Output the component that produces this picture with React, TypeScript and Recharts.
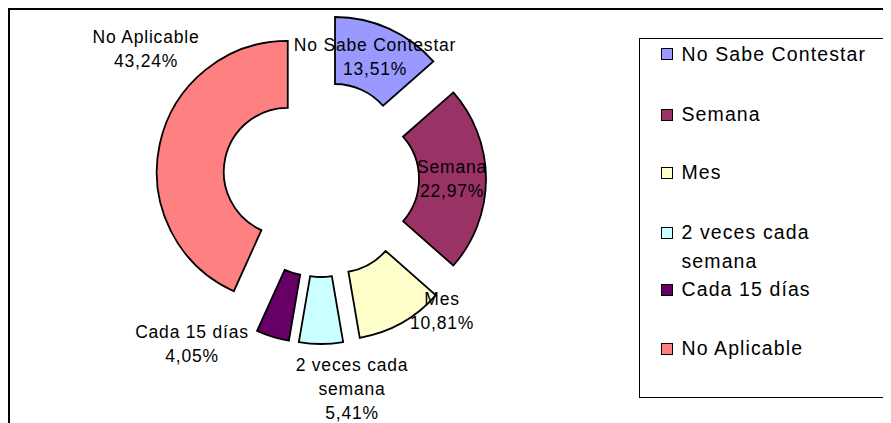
import React from 'react';
import { PieChart, Pie, Cell, Legend } from 'recharts';

// ---- data ----
const categories = ['No Sabe Contestar', 'Semana', 'Mes', '2 veces cada semana', 'Cada 15 días', 'No Aplicable'];
const values = [13.51, 22.97, 10.81, 5.41, 4.05, 43.24];
const labelLines = [['No Sabe Contestar'], ['Semana'], ['Mes'], ['2 veces cada', 'semana'], ['Cada 15 días'], ['No Aplicable']];
const legendLines = [['No Sabe Contestar'], ['Semana'], ['Mes'], ['2 veces cada', 'semana'], ['Cada 15 días'], ['No Aplicable']];
const colors = ['#9999FF', '#993366', '#FFFFCC', '#CCFFFF', '#660066', '#FF8080'];

const data = categories.map((name, i) => ({ name, value: values[i] }));

// ---- layout ----
const W = 881;
const H = 413;
const CX = 311;
const CY = 169;
const R_IN = 64;
const R_OUT = 131;
const EXPLODE = 34;
const LABEL_OFFSETS: number[][] = [[54, -122], [131, 0], [121, 131.5], [31, 210], [-129, 164.5], [-175, -130]];
const LEGEND_ROWS = [16.5, 77, 135, 195, 252, 311];
const FONT = '"Liberation Sans", Arial, sans-serif';

const total = values.reduce((a, b) => a + b, 0);
const midAngles = values.map((v, i) => {
  const before = values.slice(0, i).reduce((a, b) => a + b, 0);
  return 90 - (360 * (before + v / 2)) / total;
});

const fmt = (v: number) => v.toFixed(2).replace('.', ',') + '%';

const renderLabel = (props: any) => {
  const { cx, cy, index } = props;
  const [dx, dy] = LABEL_OFFSETS[index];
  const lines = [...labelLines[index], fmt(values[index])];
  const x = cx + dx;
  const yc = cy + dy;
  const y0 = yc - (lines.length - 1) * 12;
  return (
    <text key={'lbl' + index} x={x} y={y0} textAnchor="middle" fontFamily={FONT} fontSize={17.5} letterSpacing={0.8} fill="#000">
      {lines.map((l, i) => (
        <tspan key={i} x={x} y={y0 + i * 24 + 6}>
          {l}
        </tspan>
      ))}
    </text>
  );
};

const LegendBox = () => (
  <div
    style={{
      position: 'relative',
      width: 245,
      height: 360,
      border: '1.5px solid #000',
      boxSizing: 'border-box',
      fontFamily: FONT,
      fontSize: 19.5,
      letterSpacing: 1.1,
      color: '#000',
      background: '#fff',
    }}
  >
    {categories.map((c, i) => (
      <div
        key={c}
        style={{
          position: 'absolute',
          left: 21,
          top: LEGEND_ROWS[i] - 16,
          lineHeight: '29px',
          display: 'flex',
          whiteSpace: 'nowrap',
        }}
      >
        <span
          style={{
            width: 12,
            height: 12,
            border: '1.5px solid #000',
            background: colors[i],
            boxSizing: 'border-box',
            marginTop: 8.5,
            marginRight: 8.5,
            flex: 'none',
          }}
        />
        <span>
          {legendLines[i].map((l, j) => (
            <div key={j}>{l}</div>
          ))}
        </span>
      </div>
    ))}
  </div>
);

export default function App() {
  return (
    <div
      style={{
        width: 883,
        height: 415,
        borderTop: '2px solid #000',
        borderLeft: '2px solid #000',
        boxSizing: 'border-box',
        background: '#fff',
      }}
    >
      <PieChart width={W} height={H} margin={{ top: 0, right: 0, bottom: 0, left: 0 }}>
        {values.map((_, k) => {
          const rad = (midAngles[k] * Math.PI) / 180;
          return (
            <Pie
              key={'p' + k}
              data={data}
              dataKey="value"
              nameKey="name"
              cx={CX + EXPLODE * Math.cos(rad)}
              cy={CY - EXPLODE * Math.sin(rad)}
              innerRadius={R_IN}
              outerRadius={R_OUT}
              startAngle={90}
              endAngle={-270}
              paddingAngle={0}
              isAnimationActive={false}
              legendType="none"
              labelLine={false}
              label={false}
            >
              {data.map((d, j) => (
                <Cell
                  key={d.name}
                  fill={j === k ? colors[j] : 'none'}
                  stroke={j === k ? '#000' : 'none'}
                  strokeWidth={1.8}
                />
              ))}
            </Pie>
          );
        })}
        <Pie
          data={data}
          dataKey="value"
          nameKey="name"
          cx={CX}
          cy={CY}
          innerRadius={R_IN}
          outerRadius={R_OUT}
          startAngle={90}
          endAngle={-270}
          isAnimationActive={false}
          fill="none"
          stroke="none"
          legendType="square"
          labelLine={false}
          label={renderLabel}
        />
        <Legend
          layout="vertical"
          align="right"
          verticalAlign="top"
          content={() => <LegendBox />}
          wrapperStyle={{ left: 629, top: 28, right: 'auto', bottom: 'auto', width: 245, height: 360 }}
        />
      </PieChart>
    </div>
  );
}
